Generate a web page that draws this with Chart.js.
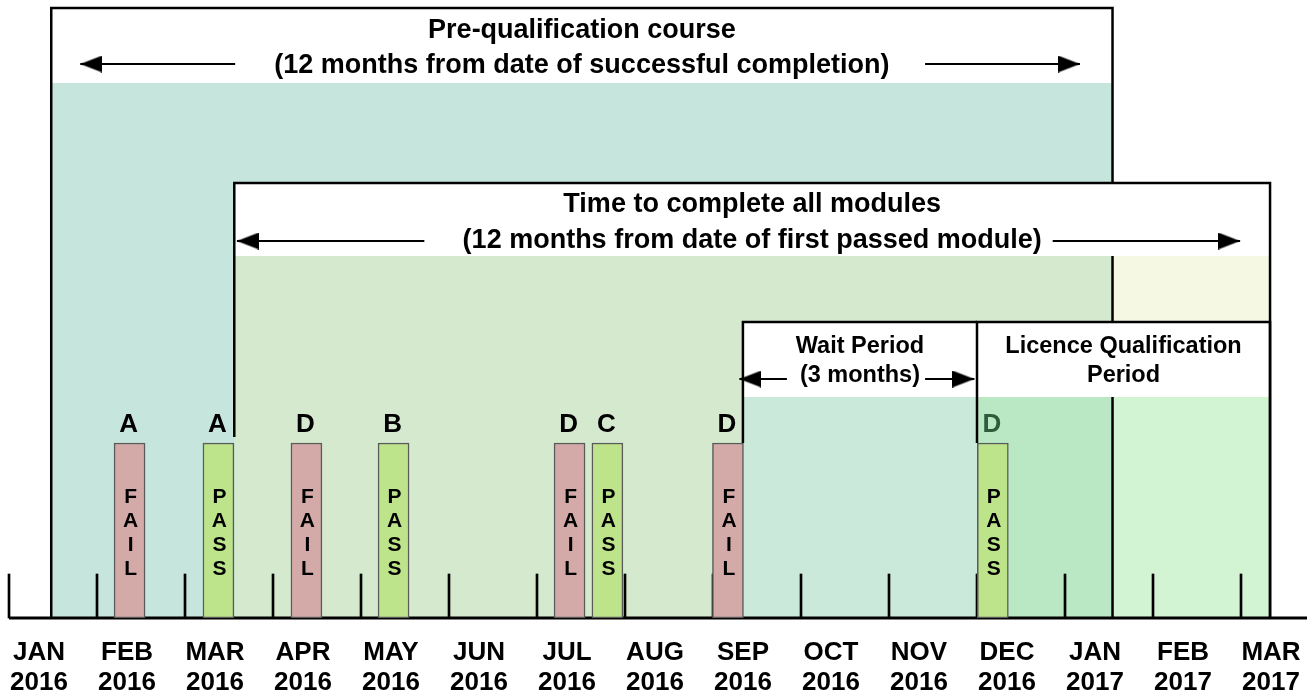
<!DOCTYPE html>
<html>
<head>
<meta charset="utf-8">
<title>Licence qualification timeline</title>
<script src="https://cdn.jsdelivr.net/npm/chart.js@4.4.1/dist/chart.umd.min.js"></script>
<style>
    html, body { margin: 0; padding: 0; background: #fff; }
    canvas { display: block; }
</style>
</head>
<body>
<canvas id="timeline" width="1307" height="696"></canvas>
<script>
/* Timeline labels: one tick per month */
const MONTHS = ["JAN", "FEB", "MAR", "APR", "MAY", "JUN", "JUL", "AUG", "SEP", "OCT", "NOV", "DEC", "JAN", "FEB", "MAR"];
const YEARS = ["2016", "2016", "2016", "2016", "2016", "2016", "2016", "2016", "2016", "2016", "2016", "2016", "2017", "2017", "2017"];

/* Exam attempts, in months counted from the start of Jan 2016 */
const examAt = [1.37, 2.38, 3.38, 4.37, 6.37, 6.8, 8.17, 11.18];
const examModule = ["A", "A", "D", "B", "D", "C", "D", "D"];
const examResult = ["FAIL", "PASS", "FAIL", "PASS", "FAIL", "PASS", "FAIL", "PASS"];

/* Periods shown as boxes above the timeline */
const periodTitle = ["Pre-qualification course", "Time to complete all modules", "Wait Period", "Licence Qualification"];
const periodNote = ["(12 months from date of successful completion)", "(12 months from date of first passed module)", "(3 months)", "Period"];
const periodFrom = [0.48, 2.56, 8.34, 11.0];
const periodTo = [12.54, 14.33, 11.0, 14.33];

/* Heights on the diagram's vertical scale (0 = the timeline) */
const periodTop = [610, 435, 296, 296];
const periodHeaderBottom = [535, 362, 221, 221];
const periodLeftFoot = [0, 181, 175, 175];
const periodRightFoot = [0, 0, null, 0];
const examTop = 175;
const tickTop = 44;

/* Arrows in the headers: [left tip, left tail, right tail, right tip] */
const arrowSpans = [[0.81, 2.57, 10.41, 12.17], [2.59, 4.72, 11.86, 13.99], [8.30, 8.84, 10.41, 10.97], null];
const arrowLevel = [554, 377, 239, null];

/* Look */
const FONT = "'Liberation Sans', Arial, sans-serif";
const X_MIN = -9 / 88;
const X_MAX = 1298 / 88;
const PERIOD_FILL = ["#c6e5dc", "rgba(231, 238, 186, 0.42)", "#cae9da", "rgba(106, 232, 169, 0.25)"];
const PERIOD_TEXT = [
    { size: 27, first: 30, second: 65 },
    { size: 27, first: 29, second: 65 },
    { size: 23.5, first: 31, second: 60 },
    { size: 23.5, first: 31, second: 60 },
];
const COLORS = { fail: "#d4aaa8", pass: "#bde38b", barEdge: "#5a5a5a", ink: "#000", licenceInk: "#2f5b3c" };

Chart.defaults.font.family = FONT;

/* Arrow head image, tip at the image centre, pointing right */
function makeArrowHead() {
    const c = document.createElement("canvas");
    c.width = 44;
    c.height = 17;
    const g = c.getContext("2d");
    g.fillStyle = "#000";
    g.beginPath();
    g.moveTo(0, 0);
    g.lineTo(22, 8.5);
    g.lineTo(0, 17);
    g.closePath();
    g.fill();
    return c;
}
const arrowHead = makeArrowHead();

function rectDataset(x0, x1, bottom, top, color) {
    return {
        type: "line",
        data: [{ x: x0, y: top }, { x: x1, y: top }],
        borderWidth: 0,
        pointRadius: 0,
        fill: { value: bottom },
        backgroundColor: color,
        clip: false,
    };
}

/* Box outline; a side is broken where a later box's white header crosses it */
function outlinePoints(i) {
    const pts = [];
    const x0 = periodFrom[i], x1 = periodTo[i], top = periodTop[i];
    if (periodLeftFoot[i] !== null) pts.push({ x: x0, y: periodLeftFoot[i] });
    pts.push({ x: x0, y: top }, { x: x1, y: top });
    if (periodRightFoot[i] !== null) {
        for (let j = i + 1; j < periodTop.length; j++) {
            if (periodFrom[j] < x1 && x1 < periodTo[j]) {
                pts.push({ x: x1, y: periodTop[j] }, { x: x1, y: null }, { x: x1, y: periodHeaderBottom[j] });
            }
        }
        pts.push({ x: x1, y: periodRightFoot[i] });
    }
    return pts;
}

function arrowDataset(tail, tip, level) {
    return {
        type: "line",
        data: [{ x: tail, y: level }, { x: tip, y: level }],
        borderColor: COLORS.ink,
        borderWidth: 2,
        pointStyle: arrowHead,
        pointRadius: ctx => (ctx.dataIndex === 1 ? 8 : 0),
        pointRotation: tip < tail ? 180 : 0,
        clip: false,
    };
}

/* Build datasets back to front */
const layers = [];

periodTitle.forEach((_, i) => {
    if (i > 0) layers.push(rectDataset(periodFrom[i], periodTo[i], periodHeaderBottom[i], periodTop[i], "#fff"));
    layers.push(rectDataset(periodFrom[i], periodTo[i], 0, periodHeaderBottom[i], PERIOD_FILL[i]));
});

periodTitle.forEach((_, i) => {
    layers.push({
        type: "line",
        data: outlinePoints(i),
        borderColor: COLORS.ink,
        borderWidth: 2.5,
        pointRadius: 0,
        fill: false,
        spanGaps: false,
        clip: false,
    });
});

// timeline axis
layers.push({
    type: "line",
    data: [{ x: 0, y: 0 }, { x: X_MAX, y: 0 }],
    borderColor: COLORS.ink,
    borderWidth: 3,
    pointRadius: 0,
    clip: false,
});

// month tick marks
layers.push({
    type: "bar",
    data: MONTHS.map((_, i) => ({ x: i, y: [0, tickTop] })),
    backgroundColor: COLORS.ink,
    barThickness: 2,
    grouped: false,
    clip: false,
});

// exam attempts
layers.push({
    type: "bar",
    data: examAt.map(m => ({ x: m, y: [0, examTop] })),
    backgroundColor: ctx => (examResult[ctx.dataIndex] === "PASS" ? COLORS.pass : COLORS.fail),
    borderColor: COLORS.barEdge,
    borderWidth: 1.5,
    borderSkipped: false,
    barThickness: 31,
    grouped: false,
    clip: false,
});

arrowSpans.forEach((span, i) => {
    if (!span) return;
    layers.push(arrowDataset(span[1], span[0], arrowLevel[i]));
    layers.push(arrowDataset(span[2], span[3], arrowLevel[i]));
});

layers.forEach((ds, i) => { ds.order = layers.length - i; });

/* Texts placed through the chart scales */
const diagramText = {
    id: "diagramText",
    afterDatasetsDraw(chart) {
        const { ctx, scales: { x, y } } = chart;
        ctx.save();
        ctx.textAlign = "center";
        ctx.textBaseline = "alphabetic";

        periodTitle.forEach((title, i) => {
            const st = PERIOD_TEXT[i];
            const cx = x.getPixelForValue((periodFrom[i] + periodTo[i]) / 2);
            ctx.font = `bold ${st.size}px ${FONT}`;
            ctx.fillStyle = COLORS.ink;
            ctx.fillText(title, cx, y.getPixelForValue(periodTop[i] - st.first));
            ctx.fillText(periodNote[i], cx, y.getPixelForValue(periodTop[i] - st.second));
        });

        examAt.forEach((m, i) => {
            const cx = x.getPixelForValue(m);
            ctx.fillStyle = m >= periodFrom[3] ? COLORS.licenceInk : COLORS.ink;
            ctx.font = `bold 26px ${FONT}`;
            ctx.fillText(examModule[i], cx - 1, y.getPixelForValue(examTop + 11));

            ctx.fillStyle = COLORS.ink;
            ctx.font = `bold 21px ${FONT}`;
            examResult[i].split("").forEach((ch, k) => {
                ctx.fillText(ch, cx + 1, y.getPixelForValue(examTop - 60 - k * 24));
            });
        });
        ctx.restore();
    },
};

new Chart(document.getElementById("timeline"), {
    type: "bar",
    data: { datasets: layers },
    options: {
        responsive: false,
        animation: false,
        devicePixelRatio: 1,
        layout: { padding: 0, autoPadding: false },
        plugins: {
            legend: { display: false },
            tooltip: { enabled: false },
        },
        scales: {
            x: {
                type: "linear",
                min: X_MIN,
                max: X_MAX,
                offset: false,
                grid: { display: false, drawTicks: false },
                border: { display: false },
                afterBuildTicks: scale => { scale.ticks = MONTHS.map((_, i) => ({ value: i })); },
                afterFit: scale => {
                    scale.height = 78;
                    scale.paddingLeft = 0;
                    scale.paddingRight = 0;
                },
                ticks: {
                    autoSkip: false,
                    maxRotation: 0,
                    minRotation: 0,
                    labelOffset: 30,
                    padding: 19,
                    color: COLORS.ink,
                    font: { size: 26, weight: "bold", lineHeight: 1.18 },
                    callback: (value) => [MONTHS[Math.round(value)], YEARS[Math.round(value)]],
                },
            },
            y: { type: "linear", display: false, min: 0, max: 618 },
        },
    },
    plugins: [diagramText],
});
</script>
</body>
</html>
